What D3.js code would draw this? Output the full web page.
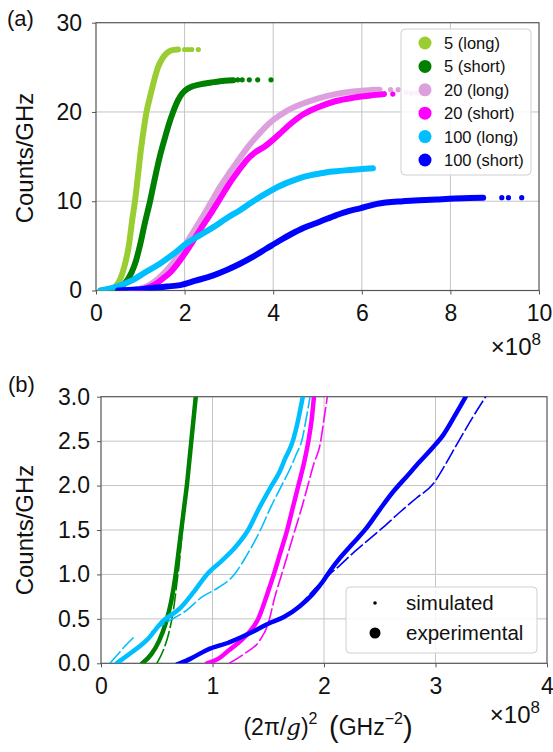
<!DOCTYPE html>
<html><head><meta charset="utf-8">
<script src="https://cdn.jsdelivr.net/npm/d3@7/dist/d3.min.js"></script>
<style>
body{margin:0;background:#fff}
svg{display:block;font-family:"Liberation Sans",Arial,Helvetica,sans-serif}
</style>
</head><body>
<svg id="chart" width="553" height="752"></svg>
<script>
// ---------- DATA (x in units of 1e8) ----------
// Panel (a): counts/GHz vs (2π/g)^2
const seriesNamesA = ["5 (long)", "5 (short)", "20 (long)", "20 (short)", "100 (long)", "100 (short)"];
const a5long = [[0.1,0],[0.3,0.1],[0.45,0.5],[0.6,2],[0.74,5],[0.82,8],[0.88,10],[0.95,13],[1.02,16],[1.1,18.8],[1.14,20],[1.22,21.7],[1.3,23.3],[1.4,25],[1.5,26],[1.6,26.6],[1.7,26.9],[1.85,27.0]];
const a5longTail = [[2.0,27],[2.08,27],[2.16,27],[2.31,27]];
const a5short = [[0.35,0],[0.5,0.2],[0.65,0.8],[0.8,2],[0.9,3.3],[0.99,5],[1.1,7.5],[1.22,10],[1.33,12.6],[1.44,15],[1.55,17],[1.65,18.7],[1.74,20],[1.85,21.3],[1.95,22.1],[2.1,22.7],[2.35,23.1],[2.6,23.3],[2.9,23.5],[3.1,23.55]];
const a5shortTail = [[3.2,23.6],[3.3,23.6],[3.46,23.6],[3.65,23.6],[3.95,23.6]];
const a20long = [[0.8,0],[1.0,0.2],[1.2,0.6],[1.4,1.3],[1.6,2.3],[1.8,3.5],[2.0,5],[2.2,6.6],[2.4,8.2],[2.6,9.9],[2.8,11.6],[3.0,13.1],[3.2,14.5],[3.4,15.9],[3.6,17.1],[3.8,18.2],[4.0,19.1],[4.3,20.1],[4.6,20.8],[5.0,21.5],[5.4,22.0],[5.8,22.3],[6.2,22.45],[6.4,22.5]];
const a20longTail = [[6.65,22.5],[6.82,22.5],[7.0,22.2],[7.12,22.1],[7.24,22.1]];
const a20short = [[0.9,0],[1.1,0.2],[1.3,0.6],[1.5,1.3],[1.67,2],[1.9,3.4],[2.12,5],[2.35,6.8],[2.6,8.7],[2.8,10.3],[3.0,11.9],[3.2,13.3],[3.4,14.6],[3.6,15.5],[3.8,16.1],[4.0,16.9],[4.2,17.8],[4.4,18.7],[4.7,19.8],[5.0,20.5],[5.4,21.2],[5.8,21.6],[6.2,21.85],[6.5,22.0]];
const a20shortTail = [[6.7,22.0]];
const a100long = [[0.1,0],[0.3,0.2],[0.5,0.5],[0.84,1.2],[1.1,2.0],[1.44,3.0],[1.75,4.1],[2.05,5.3],[2.35,6.2],[2.65,7.1],[2.95,8.1],[3.25,9.0],[3.55,10.0],[3.85,10.9],[4.1,11.6],[4.38,12.2],[4.6,12.6],[4.83,12.9],[5.05,13.1],[5.28,13.3],[5.5,13.4],[5.73,13.5],[6.0,13.6],[6.25,13.7]];
const a100longTail = [];
const a100short = [[0.5,0],[0.9,0.1],[1.3,0.3],[1.6,0.45],[1.9,0.6],[2.25,1.1],[2.65,1.7],[2.95,2.3],[3.25,3.0],[3.55,3.8],[3.85,4.7],[4.15,5.6],[4.4,6.3],[4.68,7.0],[5.05,7.7],[5.43,8.45],[5.7,8.9],[5.96,9.2],[6.34,9.7],[6.93,10.0],[7.3,10.1],[7.69,10.2],[8.1,10.3],[8.44,10.35],[8.74,10.4]];
const a100shortTail = [[9.16,10.4],[9.31,10.4],[9.61,10.4]];
const xTicksA = [0,2,4,6,8,10];
const yTicksA = [0,10,20,30];

// Panel (b): zoom on low counts, experimental vs simulated
const b5exp = [[0.37,0],[0.45,0.1],[0.52,0.25],[0.58,0.45],[0.63,0.7],[0.67,1.0],[0.7,1.3],[0.72,1.5],[0.75,1.8],[0.77,2.0],[0.79,2.25],[0.81,2.5],[0.83,2.75],[0.85,3.0]];
const b5sim = [[0.5,0],[0.56,0.15],[0.61,0.35],[0.65,0.6],[0.68,0.9],[0.7,1.1],[0.73,1.5],[0.77,2.0],[0.81,2.5],[0.85,3.0]];
const b100lExp = [[0.14,0],[0.25,0.1],[0.41,0.26],[0.55,0.47],[0.71,0.62],[0.83,0.8],[0.95,1.0],[1.08,1.15],[1.2,1.3],[1.32,1.5],[1.42,1.75],[1.53,2.0],[1.6,2.15],[1.65,2.3],[1.72,2.5],[1.77,2.75],[1.81,3.0]];
const b100lSimA = [[0.08,0],[0.15,0.1],[0.22,0.2],[0.3,0.3]];
const b100lSimB = [[0.45,0.35],[0.6,0.47],[0.75,0.58],[0.91,0.75],[1.05,0.85],[1.19,0.99],[1.3,1.2],[1.43,1.5],[1.52,1.75],[1.62,2.0],[1.7,2.2],[1.75,2.35],[1.8,2.5],[1.84,2.75],[1.875,3.0]];
const b20sExp = [[0.95,0],[1.05,0.05],[1.15,0.15],[1.25,0.25],[1.33,0.35],[1.41,0.5],[1.47,0.7],[1.51,0.85],[1.55,1.0],[1.61,1.25],[1.67,1.5],[1.72,1.75],[1.77,2.0],[1.82,2.25],[1.86,2.5],[1.89,2.75],[1.91,3.0]];
const b20sSim = [[1.15,0],[1.3,0.12],[1.42,0.25],[1.5,0.45],[1.56,0.75],[1.62,1.0],[1.68,1.25],[1.74,1.5],[1.8,1.75],[1.855,2.0],[1.91,2.25],[1.965,2.46],[2.0,2.75],[2.03,3.0]];
const b100sExp = [[0.71,0],[0.8,0.05],[0.95,0.15],[1.16,0.24],[1.37,0.36],[1.49,0.44],[1.64,0.52],[1.78,0.64],[1.9,0.78],[1.99,0.92],[2.06,1.05],[2.14,1.18],[2.26,1.35],[2.38,1.52],[2.5,1.73],[2.62,1.93],[2.74,2.1],[2.86,2.27],[2.97,2.42],[3.07,2.57],[3.18,2.8],[3.28,3.02]];
const b100sSim = [[0.67,0],[0.85,0.08],[1.05,0.2],[1.25,0.3],[1.45,0.4],[1.6,0.5],[1.75,0.62],[1.95,0.88],[2.05,1.0],[2.14,1.1],[2.26,1.24],[2.38,1.37],[2.53,1.53],[2.68,1.7],[2.83,1.86],[2.98,2.02],[3.09,2.24],[3.19,2.46],[3.32,2.74],[3.46,3.02]];
const xTicksB = [0,1,2,3,4];
const yTicksB = [0,0.5,1.0,1.5,2.0,2.5,3.0];
const legendB = ["simulated", "experimental"];

// ---------- STYLE ----------
const palette = {"5 (long)":"#9acd32","5 (short)":"#008000","20 (long)":"#dda0dd","20 (short)":"#ff00ff","100 (long)":"#00bfff","100 (short)":"#0000ff"};
const FRAME = "#555", GRID = "#c4c4c4", TXT = "#111";

const svg = d3.select("#chart");

function frame(g, x, y, xt, yt, yFmt, xPad, yPad) {
  const [x0, x1] = x.range(), [y0, y1] = y.range();
  g.append("g").selectAll("line").data(xt.slice(1, -1)).join("line")
    .attr("x1", d => x(d)).attr("x2", d => x(d)).attr("y1", y0).attr("y2", y1)
    .attr("stroke", GRID).attr("stroke-width", 1);
  g.append("g").selectAll("line").data(yt.slice(1, -1)).join("line")
    .attr("x1", x0).attr("x2", x1).attr("y1", d => y(d)).attr("y2", d => y(d))
    .attr("stroke", GRID).attr("stroke-width", 1);
  const ax = g.append("g").attr("transform", `translate(0,${y0})`)
    .call(d3.axisBottom(x).tickValues(xt).tickSize(4).tickPadding(xPad).tickFormat(d3.format("d")));
  const ay = g.append("g").attr("transform", `translate(${x0},0)`)
    .call(d3.axisLeft(y).tickValues(yt).tickSize(4).tickPadding(yPad).tickFormat(yFmt));
  [ax, ay].forEach(a => {
    a.attr("font-family", null).attr("font-size", null);
    a.select(".domain").remove();
    a.selectAll(".tick line").attr("stroke", FRAME);
    a.selectAll("text").attr("fill", TXT).style("font-size", "23px");
  });
  g.append("rect").attr("x", x0).attr("y", y1).attr("width", x1 - x0).attr("height", y0 - y1)
    .attr("fill", "none").attr("stroke", FRAME).attr("stroke-width", 1.2);
}

function expLabel(g, xr, base) {
  const t = g.append("text").attr("x", xr).attr("y", base).attr("text-anchor", "end")
    .attr("fill", TXT).style("font-size", "24px");
  t.append("tspan").text("\u00d710");
  t.append("tspan").attr("dy", -10).style("font-size", "17px").text("8");
}

// ---------- PANEL (a) ----------
const xA = d3.scaleLinear().domain([0, 10]).range([96, 539]);
const yA = d3.scaleLinear().domain([0, 30]).range([290.5, 22.7]);
const gA = svg.append("g");
frame(gA, xA, yA, xTicksA, yTicksA, d3.format("d"), 10, 10);

const lineA = d3.line().x(d => xA(d[0])).y(d => yA(d[1])).curve(d3.curveMonotoneX);
const seriesA = [
  [a5long, a5longTail], [a5short, a5shortTail], [a20long, a20longTail],
  [a20short, a20shortTail], [a100long, a100longTail], [a100short, a100shortTail]
];
svg.append("clipPath").attr("id", "clipA").append("rect")
  .attr("x", 96).attr("y", 22.7).attr("width", 443).attr("height", 267.8);
const plotA = gA.append("g").attr("clip-path", "url(#clipA)");
seriesA.forEach((s, i) => {
  const c = palette[seriesNamesA[i]];
  plotA.append("path").datum(s[0]).attr("d", lineA).attr("fill", "none")
    .attr("stroke", c).attr("stroke-width", 6).attr("stroke-linecap", "round").attr("stroke-linejoin", "round");
  plotA.append("g").selectAll("circle").data(s[1]).join("circle")
    .attr("cx", d => xA(d[0])).attr("cy", d => yA(d[1])).attr("r", 2.6).attr("fill", c);
});

// legend (a)
const lgA = gA.append("g");
lgA.append("rect").attr("x", 401).attr("y", 29).attr("width", 130).attr("height", 146).attr("rx", 4)
  .attr("fill", "#fff").attr("fill-opacity", 0.85).attr("stroke", "#d0d0d0");
seriesNamesA.forEach((n, i) => {
  const cy = 43 + i * 23.4;
  lgA.append("circle").attr("cx", 425).attr("cy", cy).attr("r", 6.5).attr("fill", palette[n]);
  lgA.append("text").attr("x", 444).attr("y", cy).attr("dy", "0.36em").attr("fill", TXT)
    .style("font-size", "16.5px").text(n);
});

gA.append("text").attr("transform", "translate(33,158) rotate(-90)").attr("text-anchor", "middle")
  .attr("fill", TXT).style("font-size", "24px").text("Counts/GHz");
gA.append("text").attr("x", 7).attr("y", 26).attr("fill", TXT).style("font-size", "22px").text("(a)");
expLabel(gA, 541, 355);

// ---------- PANEL (b) ----------
const xB = d3.scaleLinear().domain([0, 4]).range([101, 547]);
const yB = d3.scaleLinear().domain([0, 3]).range([663.3, 396.7]);
const gB = svg.append("g");
frame(gB, xB, yB, xTicksB, yTicksB, d3.format(".1f"), 10, 7);

svg.append("clipPath").attr("id", "clipB").append("rect")
  .attr("x", 101).attr("y", 396.7).attr("width", 446).attr("height", 266.6);
const plotB = gB.append("g").attr("clip-path", "url(#clipB)");
const lineB = d3.line().x(d => xB(d[0])).y(d => yB(d[1])).curve(d3.curveMonotoneX);
const seriesB = [
  {c: palette["5 (short)"], exp: [b5exp], sim: [b5sim]},
  {c: palette["100 (long)"], exp: [b100lExp], sim: [b100lSimA, b100lSimB]},
  {c: palette["20 (short)"], exp: [b20sExp], sim: [b20sSim]},
  {c: palette["100 (short)"], exp: [b100sExp], sim: [b100sSim]}
];
seriesB.forEach(s => {
  s.exp.forEach(d => plotB.append("path").datum(d).attr("d", lineB).attr("fill", "none")
    .attr("stroke", s.c).attr("stroke-width", 4.5).attr("stroke-linecap", "round").attr("stroke-linejoin", "round"));
  s.sim.forEach(d => plotB.append("path").datum(d).attr("d", lineB).attr("fill", "none")
    .attr("stroke", s.c).attr("stroke-width", 1.6).attr("stroke-dasharray", "16 3"));
});

// legend (b)
const lgB = gB.append("g");
lgB.append("rect").attr("x", 346).attr("y", 587).attr("width", 191).attr("height", 66).attr("rx", 4)
  .attr("fill", "#fff").attr("fill-opacity", 0.85).attr("stroke", "#d0d0d0");
legendB.forEach((n, i) => {
  const cy = 603 + i * 30;
  lgB.append("circle").attr("cx", 375).attr("cy", cy).attr("r", i === 0 ? 1.8 : 5.5).attr("fill", "#000");
  lgB.append("text").attr("x", 406).attr("y", cy).attr("dy", "0.36em").attr("fill", TXT)
    .style("font-size", "20.5px").text(n);
});

gB.append("text").attr("transform", "translate(33,530) rotate(-90)").attr("text-anchor", "middle")
  .attr("fill", TXT).style("font-size", "24px").text("Counts/GHz");
gB.append("text").attr("x", 8).attr("y", 392).attr("fill", TXT).style("font-size", "22px").text("(b)");
expLabel(gB, 540, 723);

// x label (b)
const xl = gB.append("text").attr("x", 328).attr("y", 735).attr("text-anchor", "middle")
  .attr("fill", TXT).style("font-size", "23px");
xl.append("tspan").text("(2\u03c0/");
xl.append("tspan").attr("font-family", "DejaVu Serif, serif").style("font-style", "italic").text("g");
xl.append("tspan").text(")");
xl.append("tspan").attr("dy", -11).style("font-size", "16px").text("2");
xl.append("tspan").attr("dy", 11).text("\u2002");
xl.append("tspan").style("font-size", "29px").attr("dy", 2).text("(");
xl.append("tspan").attr("dy", -2).text("GHz");
xl.append("tspan").attr("dy", -11).style("font-size", "16px").text("\u22122");
xl.append("tspan").attr("dy", 13).style("font-size", "29px").text(")");
</script>
</body></html>
